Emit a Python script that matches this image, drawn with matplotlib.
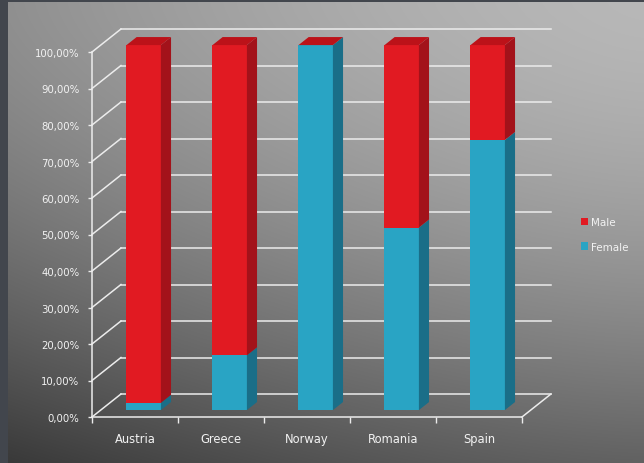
import numpy as np
import matplotlib
matplotlib.use('Agg')
import matplotlib.pyplot as plt
from matplotlib.patches import Polygon, Patch

# share of each group per country (percent)
countries = ['Austria', 'Greece', 'Norway', 'Romania', 'Spain']
female = [2, 15, 100, 50, 74]
male = [98, 85, 0, 50, 26]
y_ticks = list(range(0, 101, 10))
y_labels = [f'{v},00%' for v in y_ticks]

RED = ('#e11a22', '#a3121a', '#bc1219')     # front, side, top
BLUE = ('#29a4c4', '#1a6e88', '#1f8bab')
LINE = '#ececec'
TEXT = '#f2f2f2'

# oblique depth of the floor, in data units
DX, DY = 0.337, 6.3

fig = plt.figure(figsize=(6.44, 4.64), dpi=100)

# backdrop: grey gradient with a dark frame on the top and left
bg = fig.add_axes([0, 0, 1, 1])
bg.axis('off')
h, w = 464, 644
yy, xx = np.mgrid[0:h, 0:w]
shade = 0.72 - 0.34 * (yy / h) ** 1.6 - 0.16 * ((w - xx) / w) ** 1.5
img = np.dstack([shade, shade, shade])
img[:3, :] = (0.26, 0.275, 0.305)
img[:, :8] = (0.26, 0.275, 0.305)
bg.imshow(img, aspect='auto', interpolation='bilinear')

ax = fig.add_axes([92 / 644, 46 / 464, 430 / 644, 365 / 464])
ax.patch.set_alpha(0)
ax.set_xlim(-0.5, 4.5)
ax.set_ylim(0, 100)


def face(pts, color, z):
    ax.add_patch(Polygon(pts, closed=True, facecolor=color, edgecolor='none',
                         clip_on=False, zorder=z))


def p(x, y, d):
    return (x + d * DX, y + d * DY)


# back wall grid and the depth lines on the left
for v in y_ticks:
    ax.plot([-0.5 + DX, 4.5 + DX], [v + DY, v + DY], color=LINE, lw=1.1,
            clip_on=False, zorder=1)
    ax.plot([-0.5, -0.5 + DX], [v, v + DY], color=LINE, lw=1.1,
            clip_on=False, zorder=1)
ax.plot([4.5, 4.5 + DX], [0, DY], color=LINE, lw=1.1, clip_on=False, zorder=1)

# stacked 3d columns
bw, d0, d1 = 0.2, 0.3, 0.65
for i, (f, m) in enumerate(zip(female, male)):
    for lo, hi, col in ((0, f, BLUE), (f, f + m, RED)):
        if hi > lo:
            face([p(i - bw, lo, d0), p(i + bw, lo, d0), p(i + bw, hi, d0), p(i - bw, hi, d0)], col[0], 3)
            face([p(i + bw, lo, d0), p(i + bw, lo, d1), p(i + bw, hi, d1), p(i + bw, hi, d0)], col[1], 3)
    top = f + m
    face([p(i - bw, top, d0), p(i + bw, top, d0), p(i + bw, top, d1), p(i - bw, top, d1)], RED[2], 3)

# front plane axes
for side in ('top', 'right'):
    ax.spines[side].set_visible(False)
for side in ('left', 'bottom'):
    ax.spines[side].set_color(LINE)
    ax.spines[side].set_linewidth(1.1)
    ax.spines[side].set_zorder(4)

ax.set_yticks(y_ticks)
ax.set_yticklabels(y_labels)
ax.tick_params(axis='y', length=3, width=1, color=LINE, pad=6,
               labelsize=7.3, labelcolor=TEXT)

ax.set_xticks(range(len(countries)))
ax.set_xticklabels(countries)
ax.set_xticks(np.arange(-0.5, 5, 1), minor=True)
ax.tick_params(axis='x', which='major', length=0, pad=11,
               labelsize=8.3, labelcolor=TEXT)
ax.tick_params(axis='x', which='minor', length=4, width=1, color=LINE)

handles = [Patch(facecolor=RED[0], label='Male'),
           Patch(facecolor=BLUE[0], label='Female')]
leg = fig.legend(handles=handles, loc='upper left', bbox_to_anchor=(0.902, 0.53),
                 frameon=False, fontsize=7.5, handlelength=0.7, handleheight=0.7,
                 handletextpad=0.3, labelspacing=1.4, borderpad=0, borderaxespad=0)
for t in leg.get_texts():
    t.set_color(TEXT)

fig.savefig('out.png', dpi=100)
